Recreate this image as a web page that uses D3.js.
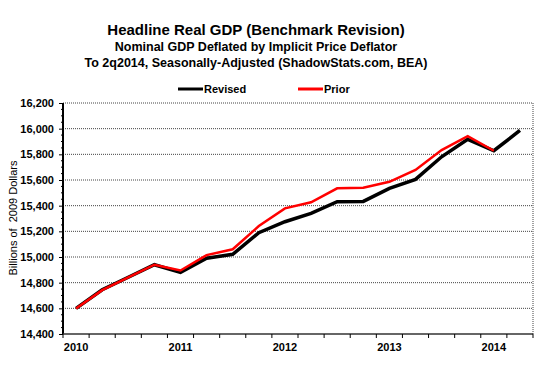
<!DOCTYPE html>
<html>
<head>
<meta charset="utf-8">
<script src="https://d3js.org/d3.v7.min.js"></script>
<style>
  body { margin: 0; background: #fff; }
  svg text { font-family: "Liberation Sans", Arial, sans-serif; fill: #000; }
</style>
</head>
<body>
<script>
// quarters 2010Q1 .. 2014Q2
var quarters = ["2010Q1","2010Q2","2010Q3","2010Q4",
                "2011Q1","2011Q2","2011Q3","2011Q4",
                "2012Q1","2012Q2","2012Q3","2012Q4",
                "2013Q1","2013Q2","2013Q3","2013Q4",
                "2014Q1","2014Q2"];

// billions of 2009 dollars
var revised = [14600, 14745, 14842, 14940, 14880, 14990, 15021, 15189, 15275,
               15340, 15431, 15433, 15535, 15605, 15781, 15917, 15828, 15986];
var prior   = [14598, 14742, 14842, 14940, 14895, 15015, 15060, 15241, 15379,
               15426, 15535, 15540, 15586, 15678, 15833, 15942, 15828];

var yTicks = [14400, 14600, 14800, 15000, 15200, 15400, 15600, 15800, 16000, 16200];
var yearLabels = ["2010", "2011", "2012", "2013", "2014"];

var W = 549, H = 381;
var margin = {top: 103, right: 16, bottom: 47, left: 63};
var width = W - margin.left - margin.right;
var height = H - margin.top - margin.bottom;

var svg = d3.select("body").append("svg")
    .attr("width", W)
    .attr("height", H);

// titles
var titles = [
  {t: "Headline Real GDP (Benchmark Revision)", y: 35, s: 15},
  {t: "Nominal GDP Deflated by Implicit Price Deflator", y: 51, s: 12.5},
  {t: "To 2q2014, Seasonally-Adjusted (ShadowStats.com, BEA)", y: 66.5, s: 12.5}
];
svg.selectAll(".title").data(titles).enter().append("text")
    .attr("class", "title")
    .attr("x", 256)
    .attr("y", function(d) { return d.y; })
    .attr("text-anchor", "middle")
    .style("font-weight", "bold")
    .style("font-size", function(d) { return d.s + "px"; })
    .text(function(d) { return d.t; });

// legend
var legend = [{name: "Revised", color: "#000", x: 178}, {name: "Prior", color: "#ff0000", x: 298}];
var lg = svg.selectAll(".legend").data(legend).enter().append("g")
    .attr("transform", function(d) { return "translate(" + d.x + ",89)"; });
lg.append("line")
    .attr("x1", 0).attr("x2", 25)
    .attr("stroke", function(d) { return d.color; })
    .attr("stroke-width", 3);
lg.append("text")
    .attr("x", 26).attr("y", 4)
    .style("font-weight", "bold")
    .style("font-size", "11px")
    .text(function(d) { return d.name; });

var g = svg.append("g")
    .attr("transform", "translate(" + margin.left + "," + margin.top + ")");

var x = d3.scaleBand()
    .domain(quarters)
    .range([0, width]);

var y = d3.scaleLinear()
    .domain([14400, 16200])
    .range([height, 0]);

// gridlines
g.selectAll(".grid").data(yTicks.slice(1)).enter().append("line")
    .attr("x1", 0).attr("x2", width)
    .attr("y1", function(d) { return y(d); })
    .attr("y2", function(d) { return y(d); })
    .attr("stroke", "#444")
    .attr("stroke-width", 1)
    .attr("stroke-dasharray", "1,1");

// right border
g.append("line")
    .attr("x1", width).attr("x2", width)
    .attr("y1", 0).attr("y2", height)
    .attr("stroke", "#444")
    .attr("stroke-dasharray", "1,1");

// y axis
var yAxis = d3.axisLeft(y)
    .tickValues(yTicks)
    .tickSize(4)
    .tickFormat(d3.format(","));
var ya = g.append("g").call(yAxis);
ya.select(".domain").attr("stroke-width", 2).attr("d", "M0," + height + "V0");
ya.selectAll("text")
    .style("font-weight", "bold")
    .style("font-size", "11px")
    .attr("x", -9);

// minor y ticks
g.selectAll(".minor").data(d3.range(14450, 16200, 50).filter(function(d) { return d % 200 != 0; }))
  .enter().append("line")
    .attr("x1", -2).attr("x2", 0)
    .attr("y1", function(d) { return y(d); })
    .attr("y2", function(d) { return y(d); })
    .attr("stroke", "#000");

// x axis with ticks at quarter boundaries
var xa = g.append("g").attr("transform", "translate(0," + height + ")");
xa.append("line")
    .attr("x1", 0).attr("x2", width)
    .attr("stroke", "#333")
    .attr("stroke-width", 1.5);
xa.selectAll(".qt").data(quarters.concat(["end"])).enter().append("line")
    .attr("x1", function(d, i) { return i * x.step(); })
    .attr("x2", function(d, i) { return i * x.step(); })
    .attr("y1", 0).attr("y2", 4)
    .attr("stroke", "#000");
xa.selectAll(".yl").data(yearLabels).enter().append("text")
    .attr("x", function(d) { return x(d + "Q1") + x.bandwidth() / 2; })
    .attr("y", 17)
    .attr("text-anchor", "middle")
    .style("font-weight", "bold")
    .style("font-size", "11px")
    .text(function(d) { return d; });

// axis title
svg.append("text")
    .attr("transform", "translate(17,218) rotate(-90)")
    .attr("text-anchor", "middle")
    .style("font-size", "11px")
    .style("white-space", "pre")
    .text("Billions of  2009 Dollars");

// lines
var line = d3.line()
    .x(function(d, i) { return x(quarters[i]) + x.bandwidth() / 2; })
    .y(function(d) { return y(d); });

g.append("path")
    .datum(revised)
    .attr("fill", "none")
    .attr("stroke", "#000")
    .attr("stroke-width", 3.5)
    .attr("d", line);

g.append("path")
    .datum(prior)
    .attr("fill", "none")
    .attr("stroke", "#ff0000")
    .attr("stroke-width", 2.5)
    .attr("d", line);
</script>
</body>
</html>
